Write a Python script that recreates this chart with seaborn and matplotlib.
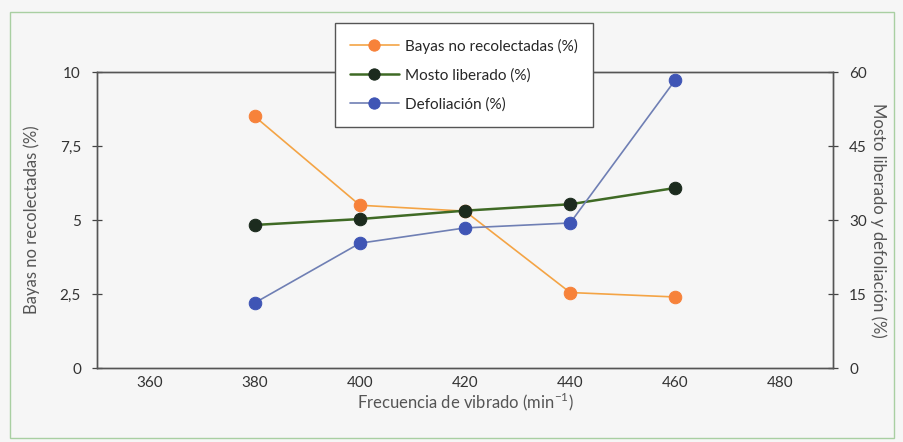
import numpy as np
import pandas as pd
import matplotlib
matplotlib.use("Agg")
import matplotlib.pyplot as plt
import seaborn as sns
from matplotlib.patches import Rectangle

# Datos
frecuencia = [380, 400, 420, 440, 460]
bayas = [8.5, 5.5, 5.3, 2.55, 2.4]          # eje izquierdo (%)
mosto = [29.0, 30.2, 31.9, 33.2, 36.5]      # eje derecho (%)
defoliacion = [13.2, 25.3, 28.4, 29.4, 58.4]  # eje derecho (%)
etiquetas_x = [360, 380, 400, 420, 440, 460, 480]

df = pd.DataFrame({"frec": frecuencia, "bayas": bayas,
                   "mosto": mosto, "defol": defoliacion})

sns.set_theme(style="white")
plt.rcParams["font.family"] = ["Lato", "DejaVu Sans"]

fig = plt.figure(figsize=(9.04, 4.42), dpi=100, facecolor="#f6f6f6")
ax = fig.add_axes([0.1073, 0.1674, 0.8142, 0.6696])
ax.set_facecolor("#f6f6f6")
ax2 = ax.twinx()

sns.lineplot(data=df, x="frec", y="bayas", ax=ax, color="#f4a445", lw=1.2,
             marker="o", markersize=9, markerfacecolor="#f7823a",
             markeredgecolor="#f7823a", label="Bayas no recolectadas (%)",
             legend=False)
sns.lineplot(data=df, x="frec", y="mosto", ax=ax2, color="#3f6a25", lw=1.8,
             marker="o", markersize=9, markerfacecolor="#1c2b1e",
             markeredgecolor="#1c2b1e", label="Mosto liberado (%)",
             legend=False)
sns.lineplot(data=df, x="frec", y="defol", ax=ax2, color="#6f7fb4", lw=1.2,
             marker="o", markersize=9, markerfacecolor="#3f55b5",
             markeredgecolor="#3f55b5", label="Defoliación (%)",
             legend=False)

# Eje x tipo categoria: marcas en los limites, etiquetas centradas
ax.set_xlim(350, 490)
ax.set_xticks(np.arange(370, 490, 20))
ax.set_xticklabels([])
ax.set_xticks(etiquetas_x, minor=True)
ax.tick_params(axis="x", which="minor", length=0, pad=6,
               labelsize=11, labelcolor="#333333")
ax.set_xticklabels([str(v) for v in etiquetas_x], minor=True)
ax.tick_params(axis="x", which="major", direction="inout", length=7,
               width=0.9, color="#444444")

ax.set_ylim(0, 10)
ax.set_yticks([0, 2.5, 5, 7.5, 10])
ax.set_yticklabels(["0", "2,5", "5", "7,5", "10"])
ax.tick_params(axis="y", direction="inout", length=7, width=0.9,
               color="#444444", labelsize=11, labelcolor="#333333", pad=8)

ax2.set_ylim(0, 60)
ax2.set_yticks([0, 15, 30, 45, 60])
ax2.tick_params(axis="y", direction="inout", length=7, width=0.9,
                color="#444444", labelsize=11, labelcolor="#333333", pad=8)

for a in (ax, ax2):
    for s in a.spines.values():
        s.set_visible(True)
        s.set_color("#555555")
        s.set_linewidth(1.0)

ax.set_xlabel("Frecuencia de vibrado (min$^{\\mathregular{-1}}$)",
              fontsize=12, color="#555555", labelpad=0)
ax.set_ylabel("Bayas no recolectadas (%)", fontsize=12, color="#555555",
              labelpad=14)
ax2.set_ylabel("Mosto liberado y defoliación (%)", fontsize=12,
               color="#555555", rotation=270, labelpad=14)

h1, l1 = ax.get_legend_handles_labels()
h2, l2 = ax2.get_legend_handles_labels()
leg = fig.legend(h1 + h2, l1 + l2, loc="center",
                 bbox_to_anchor=(0.513, 0.83), fontsize=11,
                 frameon=True, fancybox=False, edgecolor="#555555",
                 facecolor="white", framealpha=1, handlelength=3.2,
                 handletextpad=0.4, markerscale=0.9,
                 labelspacing=0.95, borderpad=1.0, borderaxespad=0)
leg.get_frame().set_linewidth(1.0)
leg.set_zorder(10)

# Marco verde de la figura
fig.patches.append(Rectangle((0.011, 0.01), 0.978, 0.963,
                             transform=fig.transFigure, fill=False,
                             edgecolor="#a9cfa2", lw=1.0))

fig.savefig("out.png", dpi=100, facecolor=fig.get_facecolor())
